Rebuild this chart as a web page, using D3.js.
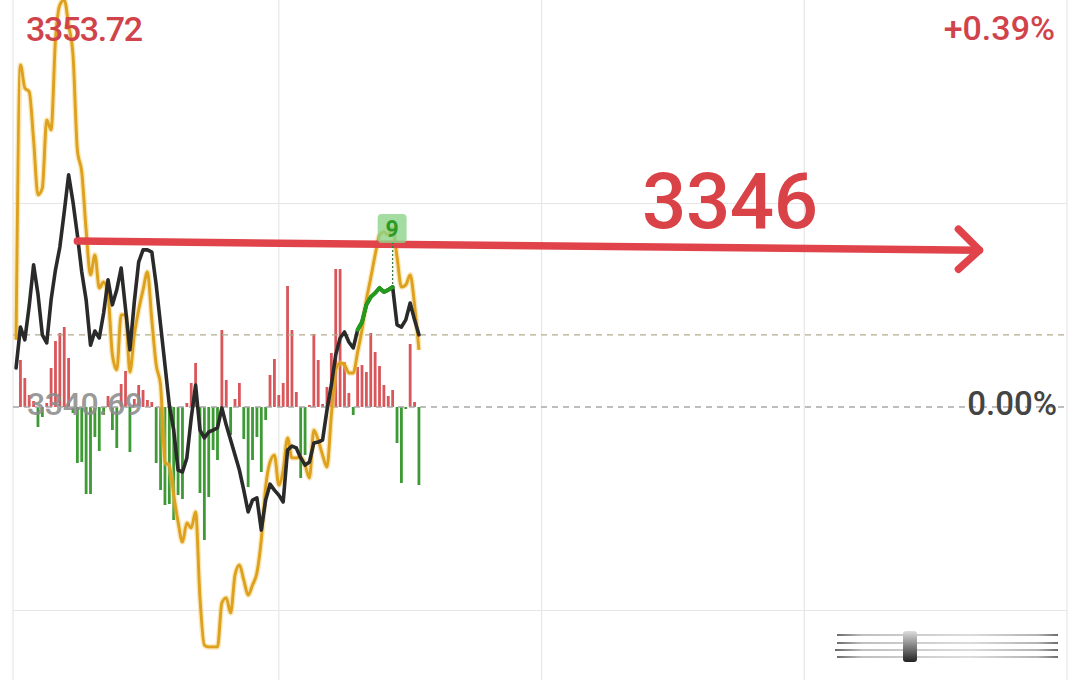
<!DOCTYPE html>
<html><head><meta charset="utf-8">
<script src="https://cdn.jsdelivr.net/npm/d3@7"></script>
<style>html,body{margin:0;padding:0;background:#fff;} svg{display:block;font-family:Roboto,"Noto Sans",sans-serif;}</style>
</head><body>
<svg id="c" width="1080" height="680"></svg>
<script>
// ---- data ----
const prevClose = 3340.69;
const rangePct = 0.0039;
const highLabel = "3353.72";
const prevCloseLabel = "3340.69";
const pctLabel = "+0.39%";
const zeroPctLabel = "0.00%";
const targetStart = 3346.00;
const targetEnd = 3345.71;
const targetLabel = "3346";
const targetMinutes = [14, 220];
const sessionMinutes = 240;
const gridMinutes = [60, 120, 180];
const indexLine = [3341.94,3343.25,3342.84,3343.92,3345.24,3344.31,3343.00,3342.74,3344.12,3345.08,
3345.81,3346.93,3348.12,3347.25,3346.20,3345.01,3344.12,3342.67,3343.12,3342.90,
3343.70,3344.76,3343.96,3344.44,3345.14,3343.83,3342.52,3344.05,3345.33,3345.72,
3345.72,3345.65,3344.60,3343.32,3342.04,3340.75,3339.95,3338.67,3338.61,3339.06,
3340.34,3341.39,3339.95,3339.70,3339.89,3339.95,3340.02,3340.66,3340.11,3339.63,
3339.15,3338.67,3338.03,3337.33,3337.71,3337.78,3336.75,3337.71,3338.22,3338.03,
3337.87,3337.65,3339.31,3339.44,3339.38,3339.06,3338.83,3338.93,3339.54,3339.57,
3339.63,3340.59,3341.39,3342.36,3342.90,3343.09,3342.77,3342.58,3343.16,3343.41,
3343.96,3344.21,3344.34,3344.50,3344.37,3344.44,3344.53,3343.32,3343.25,3343.48,
3344.02,3343.48,3343.00];
const avgLine = [3342.84,3351.64,3350.90,3350.78,3349.24,3347.48,3347.70,3349.88,3349.56,3352.44,
3353.56,3353.72,3352.92,3351.96,3348.92,3348.21,3346.36,3344.92,3345.56,3344.50,
3344.69,3344.28,3342.36,3341.88,3343.64,3343.64,3341.81,3343.00,3343.80,3344.44,
3345.01,3343.48,3342.04,3341.39,3338.93,3338.80,3337.87,3337.01,3336.37,3336.98,
3336.82,3337.33,3334.58,3333.07,3333.01,3333.01,3333.01,3334.42,3334.58,3334.10,
3335.31,3335.63,3335.15,3334.67,3334.99,3335.38,3336.43,3338.13,3338.93,3339.15,
3338.19,3338.67,3339.70,3339.06,3339.06,3339.09,3338.83,3338.42,3339.95,3339.63,
3339.15,3338.77,3340.43,3341.88,3342.10,3342.04,3341.78,3341.78,3342.45,3343.16,
3344.12,3344.82,3345.56,3346.20,3346.29,3346.20,3346.42,3345.49,3344.53,3344.60,
3344.92,3343.96,3342.52];
const breadthBars = [0,47,29,12,6,-20,-10,4,39,66,
74,80,49,-6,-56,-55,-87,-87,-30,-44,
-8,11,-23,-41,23,36,-45,8,22,17,
7,5,-56,-83,-98,-97,-113,-88,-92,4,
24,44,-86,-133,-90,-43,-53,77,27,-28,
8,24,-32,-80,-53,-30,-65,-13,32,48,
12,24,121,77,15,-71,-48,2,73,47,
3,20,54,138,138,45,14,-8,40,42,
35,74,55,41,22,11,17,-36,-76,-2,
63,5,-78];
const highlightRange = [78, 86];
const signalMinute = 86;
const signalLabel = "9";

// ---- drawing ----
(function draw() {
const svg = d3.select("#c");
const W = 1080, H = 680;
const pL = 13, pR = 1067, pT = 0, pB = 814;
const x = d3.scaleLinear().domain([-0.7, sessionMinutes]).range([pL, pR]);
const y = d3.scaleLinear().domain([prevClose*(1-rangePct), prevClose*(1+rangePct)]).range([pB, pT]);
const yb = d3.scaleLinear().domain([-407, 407]).range([pB, pT]);
const y0 = y(prevClose);

const grid = svg.append("g").attr("stroke", "#e6e6e6").attr("stroke-width", 1.2);
[pL, ...gridMinutes.map(x), pR].forEach(gx => grid.append("line").attr("x1", gx).attr("x2", gx).attr("y1", 0).attr("y2", H));
[0.25, 0.75].forEach(f => {
  const gy = pT + (pB - pT) * f;
  grid.append("line").attr("x1", pL).attr("x2", pR).attr("y1", gy).attr("y2", gy);
});

// bars
const bw = 2.8;
svg.append("g").selectAll("rect").data(breadthBars).join("rect")
  .attr("x", (d, i) => x(i) - bw/2)
  .attr("width", bw)
  .attr("y", d => d >= 0 ? yb(d) : yb(0))
  .attr("height", d => Math.abs(yb(d) - yb(0)))
  .attr("fill", d => d >= 0 ? "#d9575a" : "#3d9a34");

// prev close label
svg.append("text").attr("x", 27).attr("y", 415).attr("font-size", 32).attr("font-weight", 500)
  .attr("fill", "#8c8c8c").attr("fill-opacity", 0.9).attr("textLength", 116).text(prevCloseLabel);

// dashed lines
const lastPrice = indexLine[indexLine.length - 1];
svg.append("line").attr("x1", pL).attr("x2", pR).attr("y1", y(lastPrice)).attr("y2", y(lastPrice))
  .attr("stroke", "#b3ab8c").attr("stroke-width", 1.3).attr("stroke-dasharray", "6,5");
svg.append("line").attr("x1", pL).attr("x2", pR).attr("y1", y0).attr("y2", y0)
  .attr("stroke", "#a8a8a8").attr("stroke-width", 1.3).attr("stroke-dasharray", "6,5");

// yellow line
const lineY = d3.line().x((d, i) => x(i)).y(d => y(d)).curve(d3.curveMonotoneX);
svg.append("path").datum(avgLine).attr("d", lineY).attr("fill", "none")
  .attr("stroke", "#f3c85a").attr("stroke-opacity", 0.45).attr("stroke-width", 5.5).attr("stroke-linejoin", "round");
svg.append("path").datum(avgLine).attr("d", lineY).attr("fill", "none")
  .attr("stroke", "#dda11e").attr("stroke-width", 2.9).attr("stroke-linejoin", "round");

// black line
const lineB = d3.line().x(d => x(d[0])).y(d => y(d[1]));
const pts = indexLine.map((v, i) => [i, v]);
svg.append("path").datum(pts).attr("d", lineB).attr("fill", "none")
  .attr("stroke", "#2a2a2a").attr("stroke-width", 3.6).attr("stroke-linejoin", "round").attr("stroke-linecap", "round");
svg.append("path").datum(pts.slice(highlightRange[0], highlightRange[1] + 1)).attr("d", lineB).attr("fill", "none")
  .attr("stroke", "#229a1c").attr("stroke-width", 4).attr("stroke-linejoin", "round").attr("stroke-linecap", "round");

// arrow annotation
const ax1 = x(targetMinutes[0]), ay1 = y(targetStart), ax2 = x(targetMinutes[1]), ay2 = y(targetEnd);
const arrow = svg.append("g").attr("stroke", "#e0444a").attr("stroke-width", 7.5).attr("stroke-linecap", "round").attr("stroke-linejoin", "round").attr("fill", "none");
arrow.append("line").attr("x1", ax1).attr("y1", ay1).attr("x2", ax2).attr("y2", ay2);
arrow.append("path").attr("d", `M${ax2-21},${ay2-21} L${ax2},${ay2} L${ax2-21},${ay2+19}`);
svg.append("text").attr("x", 642).attr("y", 228).attr("font-size", 78).attr("font-weight", 500).attr("fill", "#d94246")
  .attr("textLength", 176).text(targetLabel);

// signal marker
const sx = x(signalMinute), sy = y(avgLine[signalMinute]);
svg.append("line").attr("x1", sx).attr("x2", sx).attr("y1", sy + 14).attr("y2", y(indexLine[signalMinute]))
  .attr("stroke", "#2f7a2f").attr("stroke-width", 1.2).attr("stroke-dasharray", "2,2");
svg.append("rect").attr("x", sx - 15).attr("y", sy - 14).attr("width", 29).attr("height", 29).attr("rx", 4)
  .attr("fill", "#8fd38a").attr("fill-opacity", 0.8);
svg.append("text").attr("x", sx - 0.5).attr("y", sy + 9).attr("text-anchor", "middle").attr("font-size", 23)
  .attr("font-weight", "bold").attr("fill", "#2c9a26").text(signalLabel);

// corner labels
svg.append("text").attr("x", 26).attr("y", 41).attr("font-size", 34).attr("font-weight", 500).attr("fill", "#d1434b")
  .attr("textLength", 117).text(highLabel);
svg.append("text").attr("x", 1055).attr("y", 40).attr("font-size", 34).attr("font-weight", 500).attr("fill", "#d1434b")
  .attr("text-anchor", "end").text(pctLabel);
svg.append("text").attr("x", 1057).attr("y", 415).attr("font-size", 33).attr("font-weight", 500).attr("fill", "#444")
  .attr("text-anchor", "end").text(zeroPctLabel);

// bottom-right blurred icon
const defs = svg.append("defs");
const lg = defs.append("linearGradient").attr("id", "lg").attr("gradientUnits", "userSpaceOnUse")
  .attr("x1", 835).attr("x2", 1060).attr("y1", 0).attr("y2", 0);
lg.append("stop").attr("offset", "0").attr("stop-color", "#333");
lg.append("stop").attr("offset", "0.12").attr("stop-color", "#aaa");
lg.append("stop").attr("offset", "0.6").attr("stop-color", "#d0d0d0");
lg.append("stop").attr("offset", "0.9").attr("stop-color", "#999");
lg.append("stop").attr("offset", "1").attr("stop-color", "#333");
const vg = defs.append("linearGradient").attr("id", "vg").attr("x1", 0).attr("x2", 0).attr("y1", 0).attr("y2", 1);
vg.append("stop").attr("offset", "0").attr("stop-color", "#ddd");
vg.append("stop").attr("offset", "1").attr("stop-color", "#222");
const blur = defs.append("filter").attr("id", "bl").attr("x", "-10%").attr("y", "-50%").attr("width", "120%").attr("height", "200%");
blur.append("feGaussianBlur").attr("stdDeviation", 0.7);
const icon = svg.append("g").attr("filter", "url(#bl)");
[[837, 1058, 635], [837, 1058, 643], [835, 1058, 650], [837, 1058, 657]].forEach(l =>
  icon.append("line").attr("x1", l[0]).attr("x2", l[1]).attr("y1", l[2]).attr("y2", l[2])
    .attr("stroke", "url(#lg)").attr("stroke-width", 1.6));
icon.append("rect").attr("x", 903).attr("y", 631).attr("width", 14).attr("height", 31).attr("rx", 3).attr("fill", "url(#vg)");
})();
</script>
</body></html>
